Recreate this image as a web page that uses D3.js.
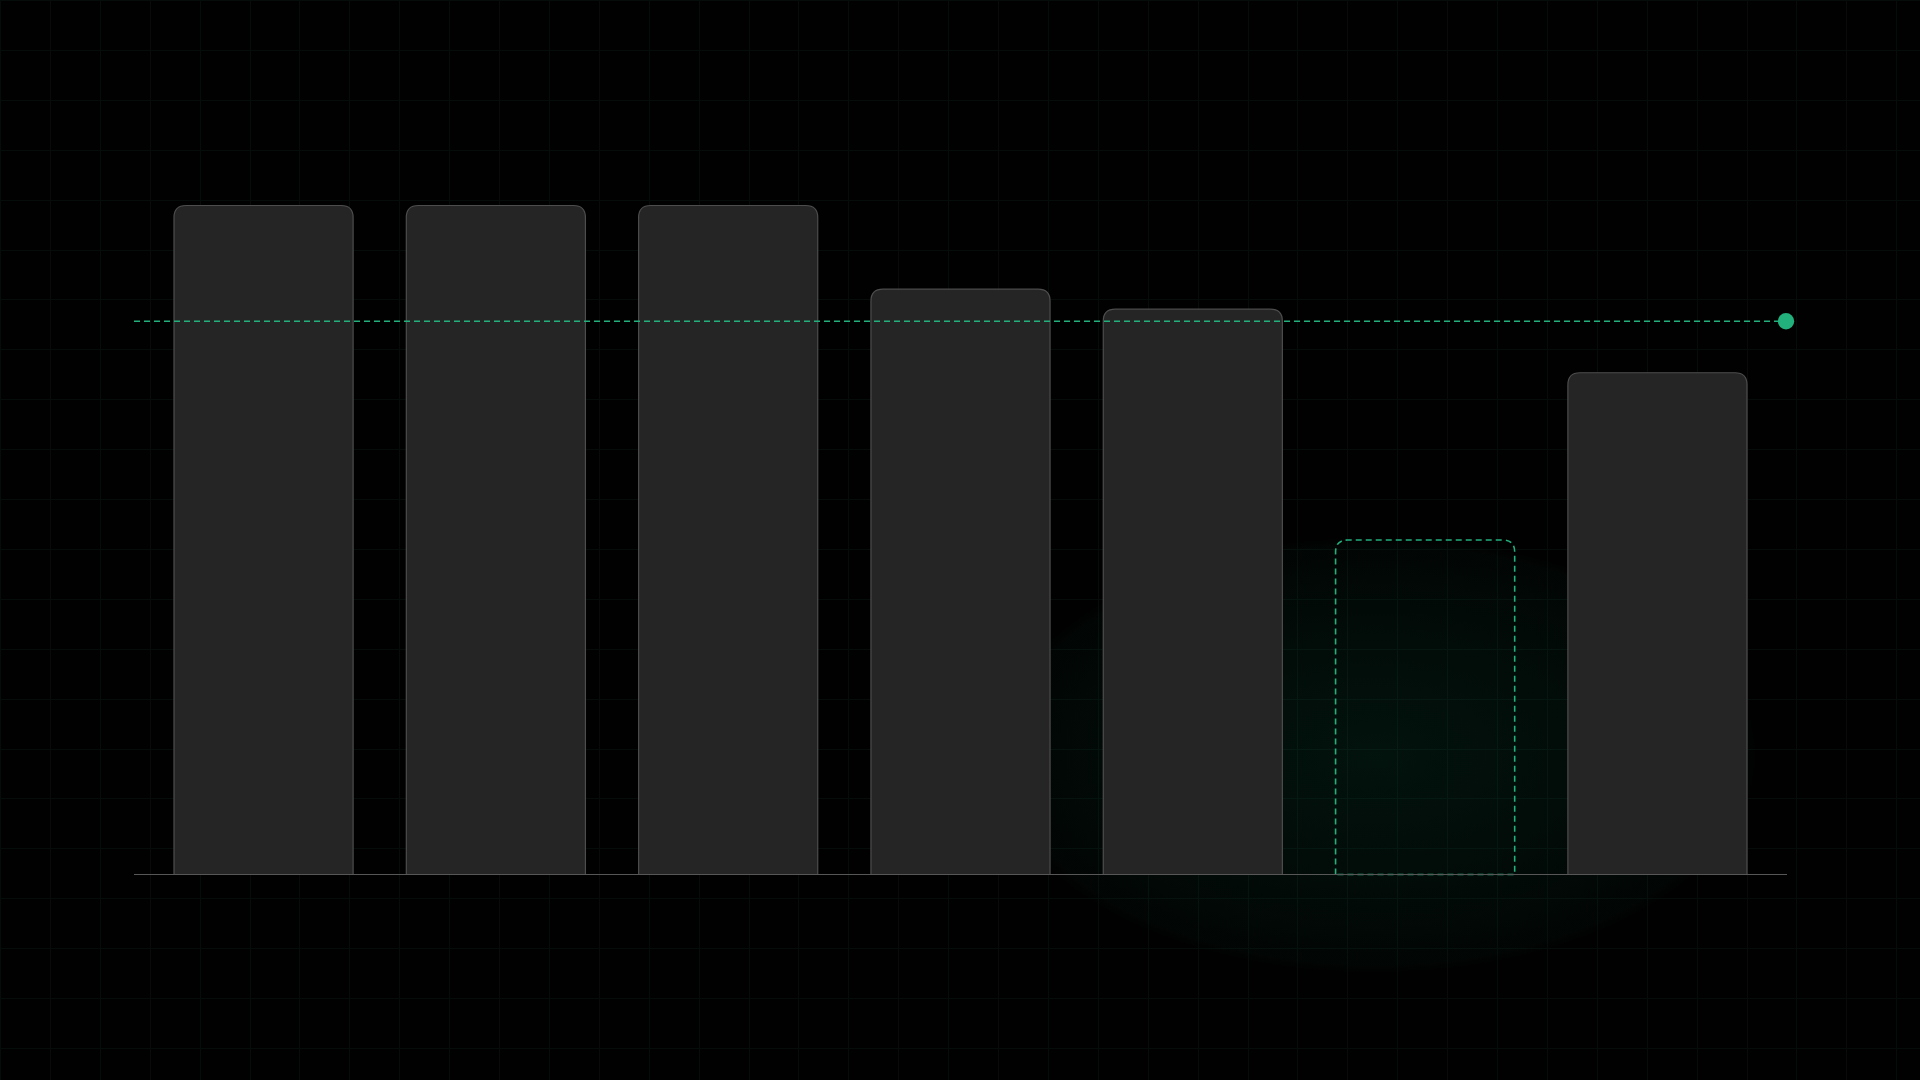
<!DOCTYPE html>
<html>
<head>
<meta charset="utf-8">
<script src="https://cdn.jsdelivr.net/npm/d3@7"></script>
<style>
  html, body { margin: 0; padding: 0; background: #010101; }
  svg { display: block; }
</style>
</head>
<body>
<div id="chart"></div>
<script>
// data
const categories = ["A", "B", "C", "D", "E", "F", "G"];
const values = [80, 80, 80, 70, 67.6, 40, 60];
const targetValue = 66.1;
const highlightIndex = 5; // dashed "missing" bar

const W = 1920, H = 1080;
const margin = { top: 205, right: 134, bottom: 206, left: 134 };
const green = "#22b07d";

const svg = d3.select("#chart").append("svg")
    .attr("width", W)
    .attr("height", H);

const defs = svg.append("defs");

// background
svg.append("rect").attr("width", W).attr("height", H).attr("fill", "#010101");

// faint grid
const gridStep = 49.9;
const grid = svg.append("g").attr("stroke", "#050c0a").attr("stroke-width", 1);
grid.selectAll("line.v")
    .data(d3.range(0, W, gridStep))
    .join("line")
    .attr("x1", d => Math.round(d) + 0.5).attr("x2", d => Math.round(d) + 0.5)
    .attr("y1", 0).attr("y2", H);
grid.selectAll("line.h")
    .data(d3.range(0, H, gridStep))
    .join("line")
    .attr("y1", d => Math.round(d) + 0.5).attr("y2", d => Math.round(d) + 0.5)
    .attr("x1", 0).attr("x2", W);

// scales
const x = d3.scaleBand()
    .domain(categories)
    .range([margin.left, W - margin.right])
    .paddingInner(0.229)
    .paddingOuter(0.17);

const y = d3.scaleLinear()
    .domain([0, 80])
    .range([H - margin.bottom, margin.top]);

// soft green glow round the highlighted bar
const glow = defs.append("radialGradient")
    .attr("id", "glow")
    .attr("cx", "50%").attr("cy", "50%").attr("r", "50%");
glow.append("stop").attr("offset", "0%").attr("stop-color", "#10b981").attr("stop-opacity", 0.095);
glow.append("stop").attr("offset", "40%").attr("stop-color", "#10b981").attr("stop-opacity", 0.07);
glow.append("stop").attr("offset", "80%").attr("stop-color", "#10b981").attr("stop-opacity", 0.04);
glow.append("stop").attr("offset", "96%").attr("stop-color", "#10b981").attr("stop-opacity", 0.025);
glow.append("stop").attr("offset", "100%").attr("stop-color", "#10b981").attr("stop-opacity", 0);

const hiCat = categories[highlightIndex];
svg.append("ellipse")
    .attr("cx", x(hiCat) + x.bandwidth() / 2 - 50)
    .attr("cy", y(0) - 119)
    .attr("rx", 382)
    .attr("ry", 218)
    .attr("fill", "url(#glow)");

// bar with rounded top corners only
function topRounded(x0, y0, w, h, r) {
    r = Math.min(r, w / 2, h);
    return `M${x0},${y0 + h}` +
        `V${y0 + r}` +
        `Q${x0},${y0} ${x0 + r},${y0}` +
        `H${x0 + w - r}` +
        `Q${x0 + w},${y0} ${x0 + w},${y0 + r}` +
        `V${y0 + h}Z`;
}

const bars = categories.map((c, i) => ({ cat: c, value: values[i], hi: i === highlightIndex }));

svg.append("g")
    .selectAll("path")
    .data(bars)
    .join("path")
    .attr("d", d => topRounded(x(d.cat) + 0.5, y(d.value) + 0.5, x.bandwidth(), y(0) - y(d.value), 12))
    .attr("fill", d => d.hi ? "none" : "#252525")
    .attr("stroke", d => d.hi ? green : "#4d4d4d")
    .attr("stroke-width", d => d.hi ? 1.6 : 1.2)
    .attr("stroke-dasharray", d => d.hi ? "6 4" : null);

// baseline
svg.append("line")
    .attr("x1", margin.left).attr("x2", W - margin.right + 1)
    .attr("y1", y(0) + 0.5).attr("y2", y(0) + 0.5)
    .attr("stroke", "#575757")
    .attr("stroke-width", 1.2);

// target line + end dot
svg.append("line")
    .attr("x1", margin.left).attr("x2", W - margin.right)
    .attr("y1", y(targetValue)).attr("y2", y(targetValue))
    .attr("stroke", green)
    .attr("stroke-width", 1.6)
    .attr("stroke-dasharray", "6 4");

svg.append("circle")
    .attr("cx", W - margin.right)
    .attr("cy", y(targetValue))
    .attr("r", 8.2)
    .attr("fill", green);
</script>
</body>
</html>
